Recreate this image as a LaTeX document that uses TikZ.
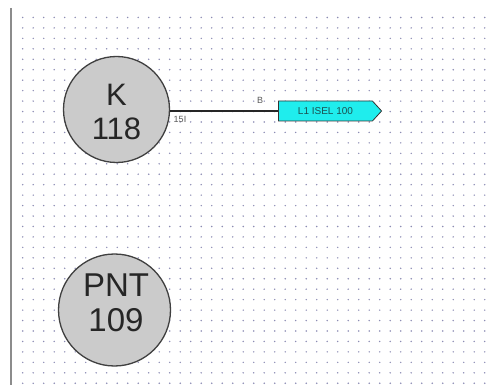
\documentclass[tikz,border=0pt]{standalone}
\usepackage{fontspec}
\setmainfont{Liberation Sans}
\usetikzlibrary{shapes.symbols}
\definecolor{griddot}{HTML}{8C8CB4}
\definecolor{busfill}{HTML}{1FEDED}
\definecolor{bustext}{HTML}{1C5050}
\definecolor{nodefill}{HTML}{CBCBCB}
\tikzset{
  busnode/.style={shape=circle, draw=black!75, line width=1.3pt, fill=nodefill,
    inner sep=0pt},
  bigtext/.style={font=\fontsize{31}{34}\selectfont, text=black!85, align=center},
  selector/.style={shape=signal, signal to=east, signal pointer angle=95,
    draw=black!80, line width=0.8pt, fill=busfill, minimum width=103pt,
    minimum height=20pt, inner sep=0pt, text=bustext,
    font=\fontsize{10}{10}\selectfont},
  pinlabel/.style={font=\fontsize{9}{9}\selectfont, text=black!65, inner sep=0pt},
  wire/.style={draw=black!85, line width=1.3pt}
}
\begin{document}
\begin{tikzpicture}[x=1pt, y=-1pt]
  \useasboundingbox (0,0) rectangle (488,385);
  \fill[white] (0,0) rectangle (488,385);
  % dotted drawing grid
  \foreach \i in {0,...,44} {
    \foreach \j in {0,...,35} {
      \fill[griddot] ({22.7+10.5*\i},{17.5+10.45*\j}) circle (0.8pt);
    }
  }
  % left frame edge
  \draw[black!45, line width=2pt] (11,8) -- (11,385);
  % station nodes
  \node[busnode, minimum size=106pt] (kc) at (116.5,109.5) {};
  \node[bigtext] (kt) at (116.5,111.5) {K\\118};
  \node[busnode, minimum size=112pt] (pc) at (114.5,310) {};
  \node[bigtext, font=\fontsize{33}{35}\selectfont] (pt) at (116,302.5) {PNT\\109};
  % selector tag and its wire
  \node[selector] (sel) at (325.5,111) {L1 ISEL 100};
  \draw[wire] (kc.east |- sel.west) -- (sel.west);
  \node[pinlabel] (pb) at (260,100) {B};
  \node[pinlabel] (pn) at (180,119) {15I};
\end{tikzpicture}
\end{document}
